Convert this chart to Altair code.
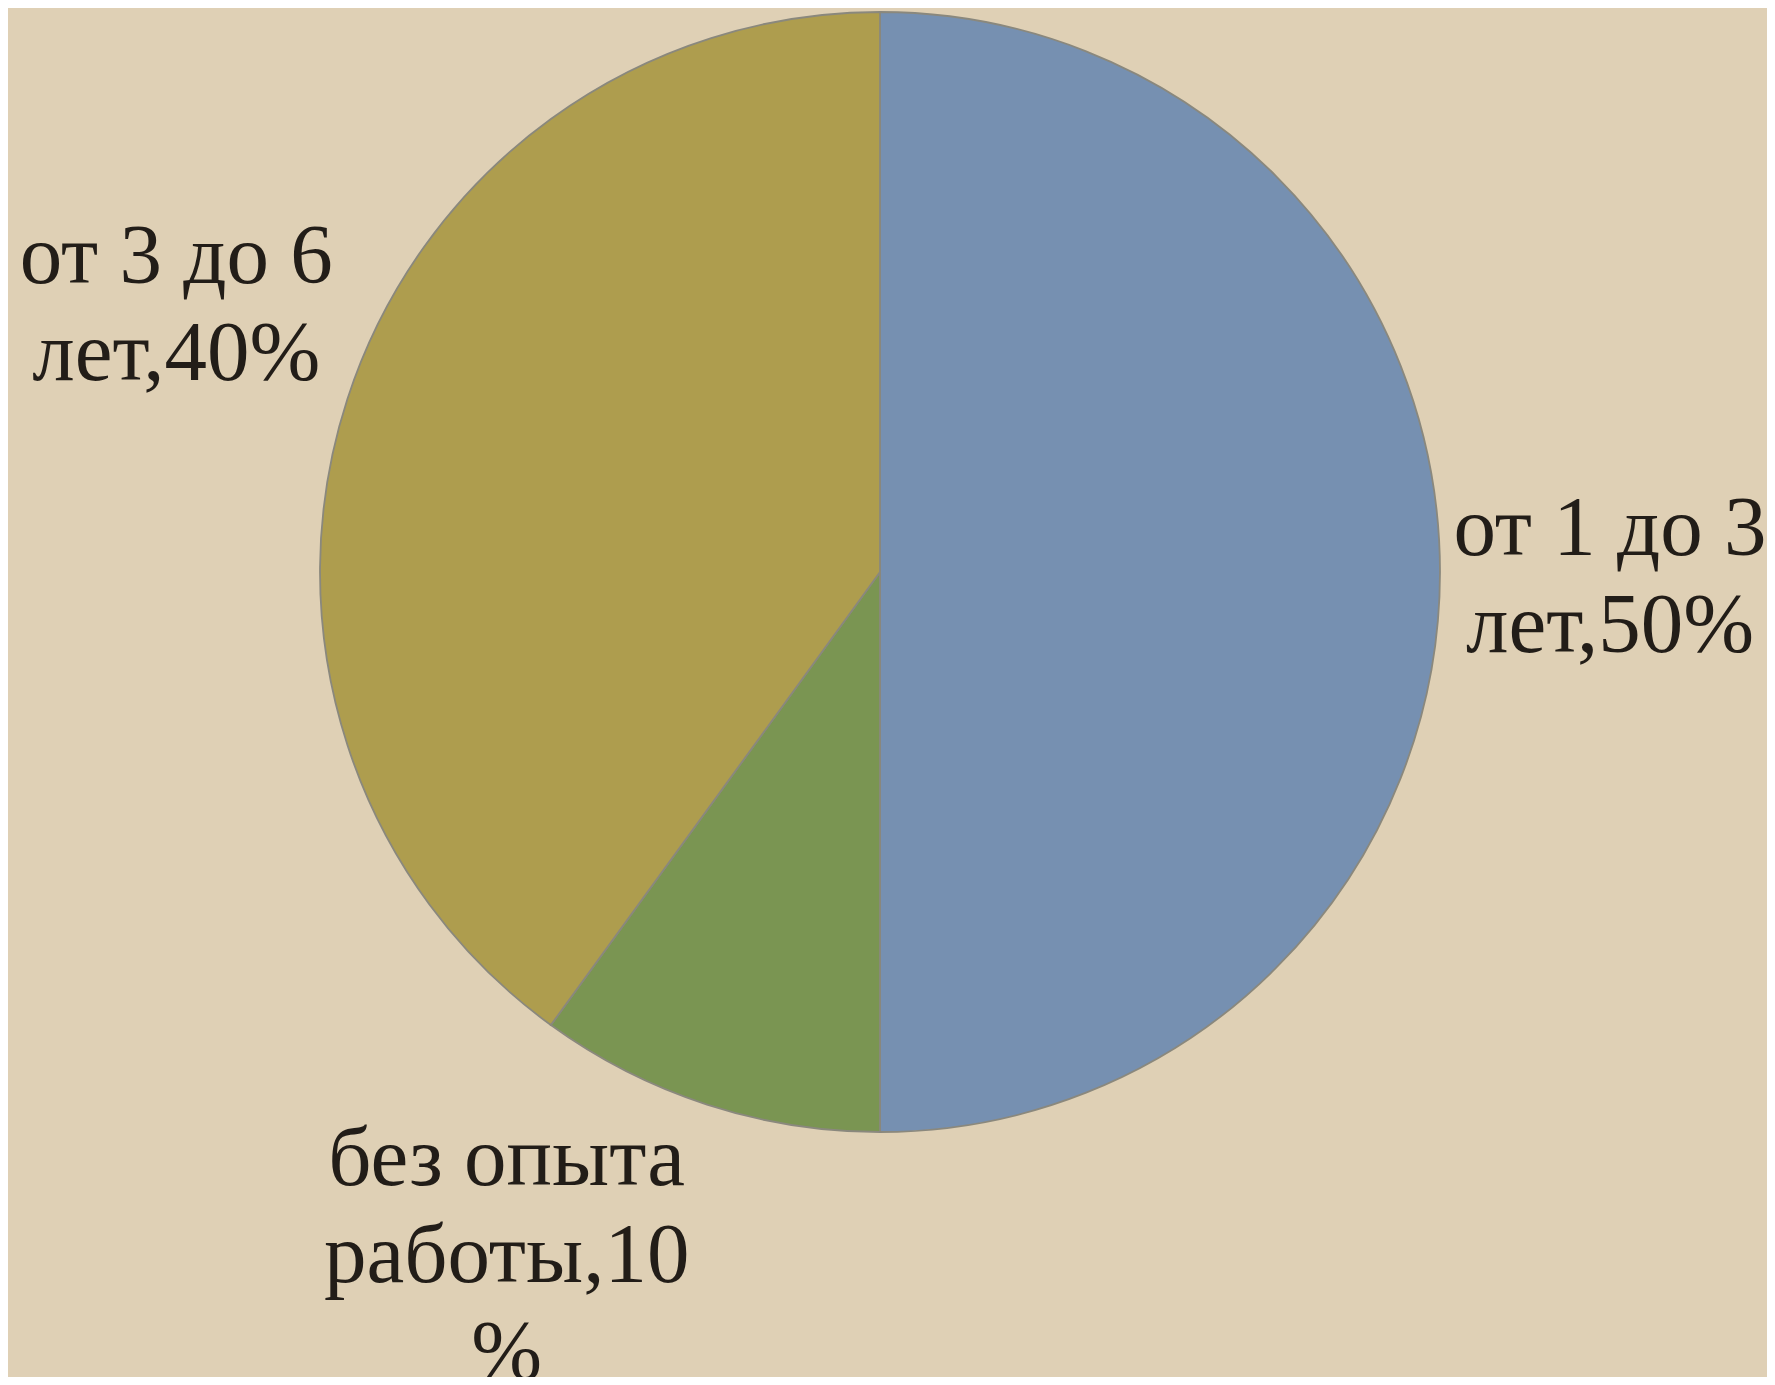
import altair as alt
import pandas as pd

categories = ["от 1 до 3 лет", "без опыта работы", "от 3 до 6 лет"]
values = [50, 10, 40]
labels = ["от 1 до 3\nлет,50%", "без опыта\nработы,10\n%", "от 3 до 6\nлет,40%"]
colors = ["#7690B1", "#7A9552", "#AE9D4E"]
order = [0, 1, 2]

df = pd.DataFrame({"cat": categories, "value": values, "label": labels, "ord": order})

CX, CY = 872, 564

base = alt.Chart(df).encode(
    theta=alt.Theta("value:Q", stack=True),
    order=alt.Order("ord:Q"),
    x=alt.value(CX),
    y=alt.value(CY),
)

pie = base.mark_arc(outerRadius=560, stroke="#8a887d", strokeWidth=1.8).encode(
    color=alt.Color("cat:N", scale=alt.Scale(domain=categories, range=colors), legend=None),
)


def label_layer(cat, dx, dy):
    return base.transform_calculate(
        lbl=f"datum.cat == '{cat}' ? datum.label : ''"
    ).mark_text(
        radius=700,
        font="Liberation Serif",
        fontSize=85,
        lineBreak="\n",
        lineHeight=97,
        align="center",
        baseline="alphabetic",
        color="#221d18",
        dx=dx,
        dy=dy,
    ).encode(text="lbl:N")


chart = alt.layer(
    pie,
    label_layer(categories[0], 30, -17),
    label_layer(categories[1], -157, -53),
    label_layer(categories[2], -38, -73),
).properties(
    width=1759,
    height=1369,
    autosize=alt.AutoSizeParams(type="none"),
    padding=0,
    background="#DFD0B5",
).configure_view(
    strokeWidth=0,
    fill="#DFD0B5",
)

chart.save("out.html", embed_options={"renderer": "svg", "actions": False})
